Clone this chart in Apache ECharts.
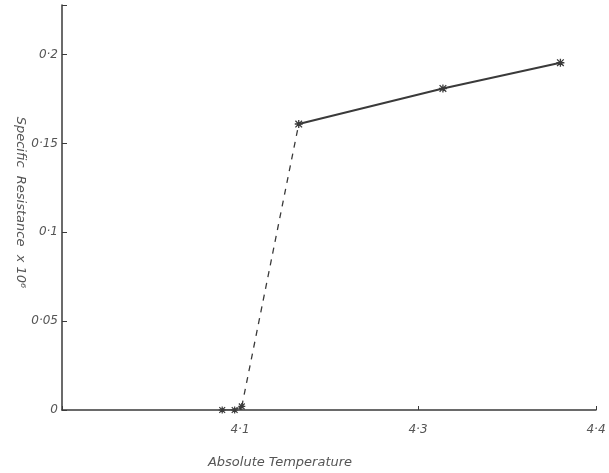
<!DOCTYPE html>
<html>
<head>
<meta charset="utf-8">
<script src="https://cdn.jsdelivr.net/npm/echarts@6/dist/echarts.min.js"></script>
<style>
  html, body { margin: 0; padding: 0; background: #fff; }
  #chart { width: 609px; height: 473px; }
</style>
</head>
<body>
<div id="chart"></div>
<script>
// readings
const temps = [4.090, 4.097, 4.101, 4.133, 4.214, 4.280];
const resist = [0, 0, 0.002, 0.161, 0.181, 0.1955];
// tick labels as written on the sheet (x ticks are evenly spaced)
const xTickLabels = ["", "4·1", "4·3", "4·4"];
const yTickLabels = ["0", "0·05", "0·1", "0·15", "0·2"];

const pts = temps.map((t, i) => [t, resist[i]]);
const lowPts = pts.slice(0, 3);
const jumpPts = pts.slice(2, 4);
const highPts = pts.slice(3);

const ink = "#3a3a3a";
const star = "path://M0,0L10,10M10,0L0,10M5,-1L5,11M-1,5L11,5";
const font = { color: "#555", fontFamily: "DejaVu Sans", fontSize: 12, fontStyle: "italic" };

const chart = echarts.init(document.getElementById("chart"));
chart.setOption({
  animation: false,
  grid: { left: 62, right: 13, top: 5, bottom: 63, outerBoundsMode: "none" },
  xAxis: {
    type: "value",
    min: 4.0,
    max: 4.3,
    interval: 0.1,
    name: "Absolute Temperature",
    nameLocation: "middle",
    nameGap: 46,
    nameMoveOverlap: false,
    nameTextStyle: Object.assign({}, font, { fontSize: 13, padding: [0, 98, 0, 0] }),
    axisLine: { lineStyle: { color: ink, width: 1.5 } },
    axisTick: { inside: true, length: 4, lineStyle: { color: ink } },
    axisLabel: Object.assign({}, font, {
      margin: 14,
      formatter: (v) => xTickLabels[Math.round((v - 4.0) * 10)] || ""
    }),
    splitLine: { show: false }
  },
  yAxis: {
    type: "value",
    min: 0,
    max: 0.228,
    interval: 0.05,
    name: "Specific  Resistance  x 10\u2076",
    nameLocation: "middle",
    nameRotate: -90,
    nameGap: 35,
    nameMoveOverlap: false,
    nameTextStyle: Object.assign({}, font, { fontSize: 13, padding: [0, 10, 0, 0] }),
    axisLine: { lineStyle: { color: ink, width: 1.5 } },
    axisTick: { inside: true, length: 5, lineStyle: { color: ink } },
    axisLabel: Object.assign({}, font, {
      margin: 4,
      formatter: (v) => yTickLabels[Math.round(v / 0.05)] || ""
    }),
    splitLine: { show: false }
  },
  series: [
    {
      type: "line",
      data: lowPts,
      symbol: star,
      symbolSize: 7,
      showAllSymbol: true,
      lineStyle: { color: ink, width: 1 },
      itemStyle: { color: "none", borderColor: ink, borderWidth: 1.2 }
    },
    {
      type: "line",
      data: jumpPts,
      symbol: "none",
      lineStyle: { color: ink, width: 1.3, type: [6, 6] }
    },
    {
      type: "line",
      data: highPts,
      symbol: star,
      symbolSize: 8,
      showAllSymbol: true,
      lineStyle: { color: ink, width: 2 },
      itemStyle: { color: "none", borderColor: ink, borderWidth: 1.3 }
    }
  ]
});
</script>
</body>
</html>
